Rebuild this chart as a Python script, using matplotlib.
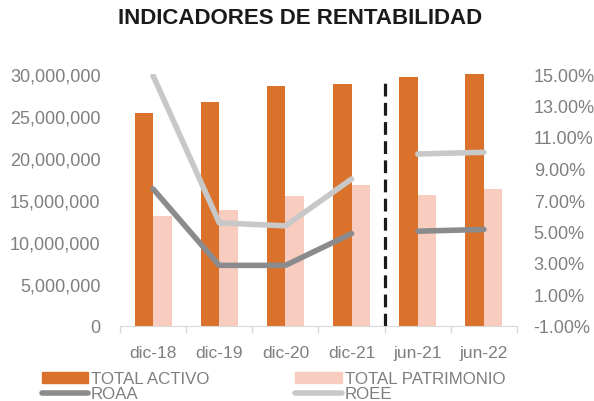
import numpy as np
import matplotlib.pyplot as plt
from matplotlib.lines import Line2D
from matplotlib.patches import Patch
from matplotlib.ticker import FuncFormatter

plt.rcParams['font.family'] = ['Liberation Sans', 'DejaVu Sans']

# data
periods = ["dic-18", "dic-19", "dic-20", "dic-21", "jun-21", "jun-22"]
total_activo = [25.3e6, 26.7e6, 28.6e6, 28.8e6, 29.6e6, 30.1e6]
total_patrimonio = [13.05e6, 13.8e6, 15.45e6, 16.75e6, 15.65e6, 16.3e6]
roaa = [7.7, 2.85, 2.85, 4.87, 5.02, 5.13]
roee = [14.9, 5.55, 5.36, 8.33, 9.92, 10.03]

orange = "#DB722B"
pink = "#F8CDBF"
gray_dark = "#8B8B8D"
gray_light = "#C8C8C8"
txt = "#7F7F7F"

fig = plt.figure(figsize=(5.94, 4.02), dpi=100)
ax = fig.add_axes([120/594, 1-327/402, 397/594, 252/402])

x = np.arange(len(periods))
w = 0.28
ax.bar(x - w/2, total_activo, w, color=orange, zorder=2)
ax.bar(x + w/2, total_patrimonio, w, color=pink, zorder=2)

ax.set_xlim(-0.5, len(periods) - 0.5)
ax.set_ylim(0, 30e6)
ax.set_yticks(np.arange(0, 30e6 + 1, 5e6))
ax.yaxis.set_major_formatter(FuncFormatter(lambda v, p: f"{v:,.0f}"))
ax.tick_params(axis='y', length=0, labelsize=13, colors=txt, pad=14)
ax.set_xticks(x)
ax.set_xticklabels(periods)
ax.tick_params(axis='x', which='major', length=0, labelsize=12.5, colors=txt, pad=14)
ax.set_xticks(np.arange(-0.5, len(periods)), minor=True)
ax.tick_params(axis='x', which='minor', length=5, color="#D9D9D9", width=1)
for s in ['top', 'right', 'left']:
    ax.spines[s].set_visible(False)
ax.spines['bottom'].set_color("#D9D9D9")

# dashed separator between annual and semester data
ax.plot([3.5, 3.5], [0, 29e6], color="#1A1A1A", lw=2.3, ls=(0, (4, 2)), zorder=4)

ax2 = ax.twinx()
ax2.set_ylim(-1, 15)
ax2.set_yticks(np.arange(-1, 15.1, 2))
ax2.yaxis.set_major_formatter(FuncFormatter(lambda v, p: f"{v:.2f}%"))
ax2.tick_params(axis='y', length=0, labelsize=13, colors=txt, pad=12)
for s in ax2.spines.values():
    s.set_visible(False)

lw = 4
ax2.plot(x[:4], roaa[:4], color=gray_dark, lw=lw, solid_capstyle='round', zorder=3)
ax2.plot(x[4:], roaa[4:], color=gray_dark, lw=lw, solid_capstyle='round', zorder=3)
ax2.plot(x[:4], roee[:4], color=gray_light, lw=lw, solid_capstyle='round', zorder=3)
ax2.plot(x[4:], roee[4:], color=gray_light, lw=lw, solid_capstyle='round', zorder=3)

fig.text(0.505, 0.955, "INDICADORES DE RENTABILIDAD", ha='center', va='center',
         fontsize=16, fontweight='bold', color="#1A1A1A")

handles = [Patch(color=orange), Line2D([], [], color=gray_dark, lw=lw, solid_capstyle='round'),
           Patch(color=pink), Line2D([], [], color=gray_light, lw=lw, solid_capstyle='round')]
labels = ["TOTAL ACTIVO", "ROAA", "TOTAL PATRIMONIO", "ROEE"]
fig.legend(handles, labels, ncol=2, loc='lower left', bbox_to_anchor=(0.05, -0.03),
           frameon=False, fontsize=12.2, labelcolor=txt, handlelength=2.75, handleheight=0.6,
           handletextpad=0.15, columnspacing=5.1, labelspacing=0.0, borderpad=0.2)

fig.savefig("out.png", dpi=100)
